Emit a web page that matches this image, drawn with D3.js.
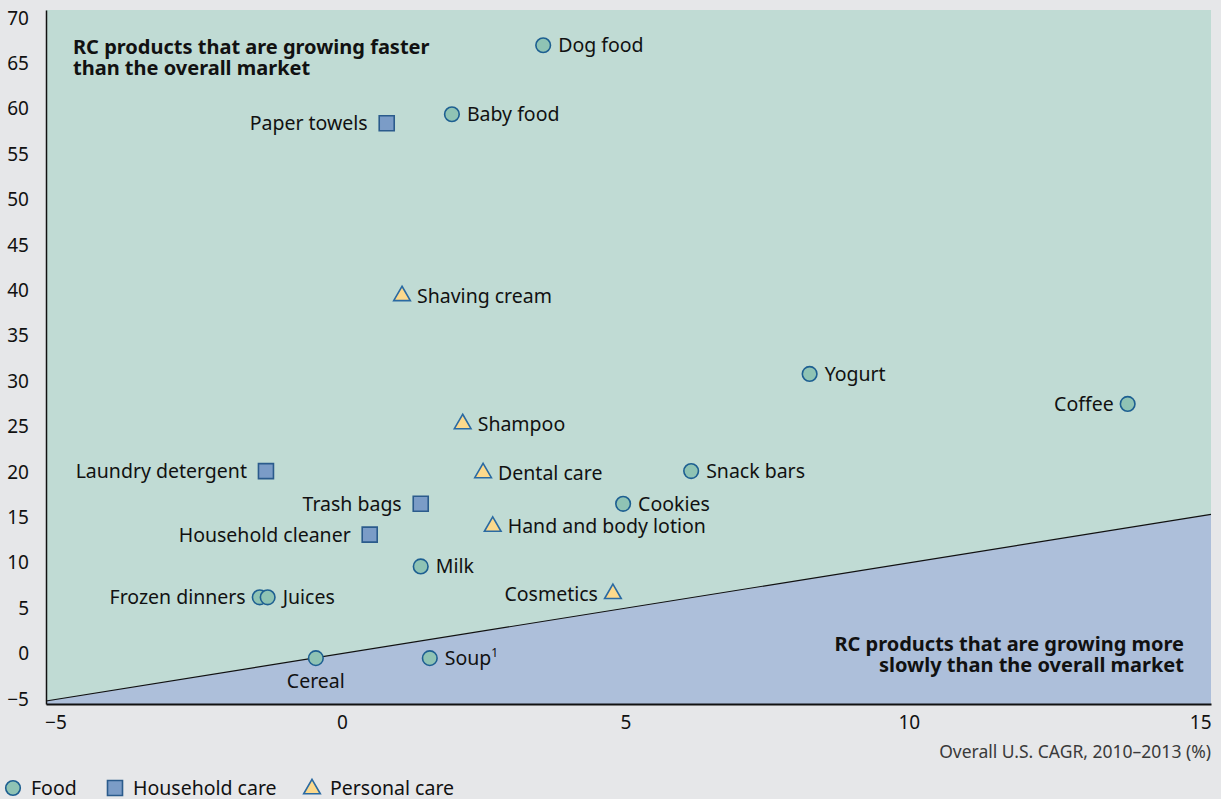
<!DOCTYPE html>
<html>
<head>
<meta charset="utf-8">
<script src="https://cdn.jsdelivr.net/npm/d3@7"></script>
<style>
  html, body { margin: 0; padding: 0; background: #e6e7e9; }
  svg { display: block; font-family: "Noto Sans", "Open Sans", sans-serif; }
</style>
</head>
<body>
<svg id="chart" width="1221" height="799"></svg>
<script>
// Products: overall U.S. CAGR (x) vs RC CAGR (y), 2010–2013
const products   = ["Dog food", "Baby food", "Paper towels", "Shaving cream", "Yogurt", "Coffee",
                    "Shampoo", "Laundry detergent", "Dental care", "Snack bars", "Trash bags", "Cookies",
                    "Household cleaner", "Hand and body lotion", "Milk", "Frozen dinners", "Juices",
                    "Cosmetics", "Cereal", "Soup"];
const categories = ["Food", "Food", "Household care", "Personal care", "Food", "Food",
                    "Personal care", "Household care", "Personal care", "Food", "Household care", "Food",
                    "Household care", "Personal care", "Food", "Food", "Food",
                    "Personal care", "Food", "Food"];
const overallCagr = [3.55, 1.94, 0.79, 1.06, 8.25, 13.86,
                     2.13, -1.34, 2.49, 6.16, 1.39, 4.96,
                     0.49, 2.66, 1.39, -1.45, -1.31,
                     4.78, -0.46, 1.55];
const rcCagr      = [67.0, 59.4, 58.4, 39.4, 30.8, 27.5,
                     25.3, 20.1, 19.9, 20.1, 16.5, 16.5,
                     13.1, 14.0, 9.6, 6.2, 6.2,
                     6.6, -0.5, -0.5];
// where each label sits relative to its marker
const labelSide   = ["right", "right", "left", "right", "right", "left",
                     "right", "left", "right", "right", "left", "right",
                     "left", "right", "right", "left", "right",
                     "left", "below", "right"];
const xTicks = [-5, 0, 5, 10, 15];
const yTicks = [-5, 0, 5, 10, 15, 20, 25, 30, 35, 40, 45, 50, 55, 60, 65, 70];
const legendItems = ["Food", "Household care", "Personal care"];

const styles = {
  "Food":           { fill: "#8fc3b4", stroke: "#1d5f91", gap: 14 },
  "Household care": { fill: "#7b9cc7", stroke: "#2b5b8c", gap: 19 },
  "Personal care":  { fill: "#fcd98c", stroke: "#2a6aa2", gap: 15 }
};

const svg = d3.select("#chart");
const plotLeft = 46, plotRight = 1211, plotTop = 10, plotBottom = 704;

const x = d3.scaleLinear().domain([-5.22, 15.33]).range([plotLeft, plotRight]);
const y = d3.scaleLinear().domain([-5.55, 70.88]).range([plotBottom, plotTop]);

const [x0, x1] = x.domain();
const [y0, y1] = y.domain();

// Upper region: RC growing faster than the market
svg.append("rect")
  .attr("x", plotLeft).attr("y", plotTop)
  .attr("width", plotRight - plotLeft).attr("height", plotBottom - plotTop)
  .attr("fill", "#c0dbd4");

// Lower region below the parity line y = x
const lower = [[x0, y0], [x0, Math.max(x0, y0)], [x1, x1], [x1, y0]];
svg.append("path")
  .attr("d", d3.line().x(d => x(d[0])).y(d => y(d[1]))(lower) + "Z")
  .attr("fill", "#adbfda");

svg.append("line")
  .attr("x1", x(x0)).attr("y1", y(x0))
  .attr("x2", x(x1)).attr("y2", y(x1))
  .attr("stroke", "#111").attr("stroke-width", 1.2);

// Axes
const fmt = d => d < 0 ? "\u2212" + Math.abs(d) : d;
const xAxis = svg.append("g").attr("transform", `translate(0,${plotBottom})`)
  .call(d3.axisBottom(x).tickValues(xTicks).tickSize(0).tickPadding(12).tickFormat(fmt));
xAxis.select(".domain").attr("stroke", "#111").attr("stroke-width", 2);
xAxis.selectAll("text").attr("font-size", 19).attr("fill", "#111")
  .attr("font-family", "Noto Sans, sans-serif")
  .attr("text-anchor", (d, i) => i === xTicks.length - 1 ? "end" : "middle")
  .attr("dx", (d, i) => i === 0 ? -3 : 0)
  .attr("x", (d, i) => i === xTicks.length - 1 ? plotRight - x(d) : 0);

const yAxis = svg.append("g").attr("transform", `translate(${plotLeft},0)`)
  .call(d3.axisLeft(y).tickValues(yTicks).tickSize(0).tickPadding(17).tickFormat(fmt));
yAxis.select(".domain").attr("stroke", "#111").attr("stroke-width", 1.5);
yAxis.selectAll("text").attr("font-size", 19).attr("fill", "#111")
  .attr("font-family", "Noto Sans, sans-serif");

// Axis titles
svg.append("text")
  .attr("x", plotRight).attr("y", 758)
  .attr("text-anchor", "end").attr("font-size", 17.5).attr("fill", "#3a3a3a")
  .text("Overall U.S. CAGR, 2010\u20132013 (%)");

svg.append("text")
  .attr("x", 130).attr("y", -3)
  .attr("font-size", 17).attr("fill", "#3a3a3a")
  .text("RC CAGR, 2010\u20132013 (%)");

// Region annotations
const upNote = svg.append("text").attr("font-size", 20).attr("font-weight", 700).attr("fill", "#111");
upNote.append("tspan").attr("x", 73).attr("y", 54).text("RC products that are growing faster");
upNote.append("tspan").attr("x", 73).attr("y", 75).text("than the overall market");

const downNote = svg.append("text").attr("font-size", 20).attr("font-weight", 700).attr("fill", "#111")
  .attr("text-anchor", "end");
downNote.append("tspan").attr("x", 1184).attr("y", 651).text("RC products that are growing more");
downNote.append("tspan").attr("x", 1184).attr("y", 672).text("slowly than the overall market");

// Marker shapes
const symbolFor = {
  "Food": d3.symbol().type(d3.symbolCircle).size(Math.PI * 7.3 * 7.3),
  "Household care": d3.symbol().type(d3.symbolSquare).size(15 * 15),
  "Personal care": d3.symbol().type(d3.symbolTriangle).size(120)
};

const rows = products.map((name, i) => ({
  name, cat: categories[i], xv: overallCagr[i], yv: rcCagr[i], side: labelSide[i]
}));

const g = svg.append("g");
g.selectAll("path.pt").data(rows).join("path")
  .attr("class", "pt")
  .attr("transform", d => `translate(${x(d.xv)},${y(d.yv)})`)
  .attr("d", d => symbolFor[d.cat]())
  .attr("fill", d => styles[d.cat].fill)
  .attr("stroke", d => styles[d.cat].stroke)
  .attr("stroke-width", 1.6);

const labels = g.selectAll("text.lbl").data(rows).join("text")
  .attr("class", "lbl")
  .attr("font-size", 19.5).attr("fill", "#111")
  .attr("x", d => d.side === "right" ? x(d.xv) + 15
                : d.side === "left" ? x(d.xv) - styles[d.cat].gap : x(d.xv))
  .attr("y", d => d.side === "below" ? y(d.yv) + 30 : y(d.yv) + 7)
  .attr("text-anchor", d => d.side === "right" ? "start" : d.side === "left" ? "end" : "middle")
  .text(d => d.name);
labels.filter(d => d.name === "Soup").append("tspan")
  .attr("font-size", 12).attr("dy", -8).text("1");

// Legend
const legend = svg.append("g").attr("transform", "translate(0,788)");
const legendX = [13, 115, 312];
legendItems.forEach((cat, i) => {
  legend.append("path")
    .attr("transform", `translate(${legendX[i]},${cat === "Personal care" ? 1 : 0})`)
    .attr("d", symbolFor[cat]())
    .attr("fill", styles[cat].fill)
    .attr("stroke", styles[cat].stroke)
    .attr("stroke-width", 1.6);
  legend.append("text")
    .attr("x", legendX[i] + 18).attr("y", 7)
    .attr("font-size", 19.5).attr("fill", "#111")
    .text(cat);
});
</script>
</body>
</html>
